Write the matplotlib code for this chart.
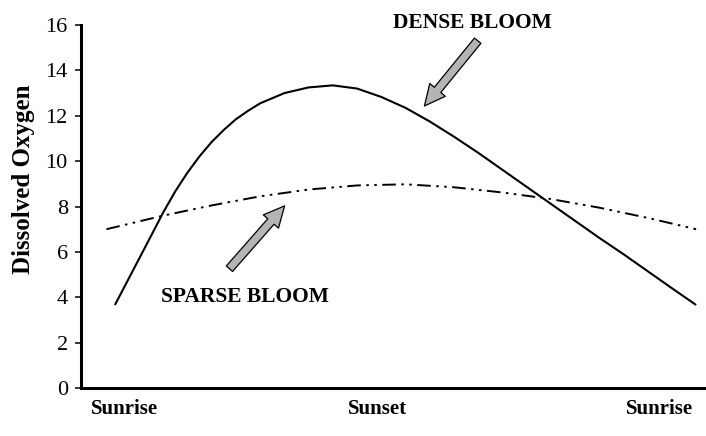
import matplotlib
matplotlib.use("Agg")
import matplotlib.pyplot as plt

# Data (hours after sunrise, dissolved oxygen)
dense_x = [0, 0.5, 1, 1.5, 2, 2.5, 3, 3.5, 4, 4.5, 5, 5.5, 6, 7, 8, 9, 10, 11,
           12, 13, 14, 15, 16, 17, 18, 19, 20, 21, 22, 23, 24]
dense_y = [3.66, 4.68, 5.7, 6.72, 7.75, 8.68, 9.5, 10.22, 10.85, 11.38, 11.85, 12.22,
           12.55, 13.0, 13.25, 13.34, 13.2, 12.83, 12.35, 11.75, 11.08, 10.37, 9.62,
           8.87, 8.12, 7.37, 6.62, 5.9, 5.15, 4.4, 3.66]
sparse_x = [-0.35, 2, 4, 6, 8, 10, 12, 14, 16, 18, 20, 22, 24]
sparse_y = [7.0, 7.6, 8.05, 8.45, 8.75, 8.93, 8.98, 8.85, 8.62, 8.33, 7.95, 7.5, 7.0]
xtick_pos = [0.4, 10.85, 22.5]
xtick_labels = ["Sunrise", "Sunset", "Sunrise"]
yticks = [0, 2, 4, 6, 8, 10, 12, 14, 16]

serif = ["Liberation Serif", "DejaVu Serif"]

fig = plt.figure(figsize=(7.06, 4.36), dpi=100)
ax = fig.add_axes([0.1147, 0.110, 0.884, 0.8326])

ax.plot(dense_x, dense_y, color="black", lw=1.5, solid_capstyle="butt",
        solid_joinstyle="round")
ax.plot(sparse_x, sparse_y, color="black", lw=1.4,
        linestyle=(0, (7, 2.8, 1.3, 2.8, 1.3, 2.8)))

ax.set_xlim(-1.4, 24.37)
ax.set_ylim(0, 16)

for s in ["top", "right"]:
    ax.spines[s].set_visible(False)
for s in ["left", "bottom"]:
    ax.spines[s].set_linewidth(2.2)

ax.set_yticks(yticks)
ax.set_yticklabels([str(v) for v in yticks], fontfamily=serif, fontsize=16)
ax.tick_params(axis="y", direction="out", length=4.5, width=1.1, pad=5)
ax.set_xticks(xtick_pos)
ax.set_xticklabels(xtick_labels, fontfamily=serif, fontsize=15, fontweight="bold")
ax.tick_params(axis="x", length=0, pad=8)

ax.set_ylabel("Dissolved Oxygen", fontfamily=serif, fontsize=18, fontweight="bold")
ax.yaxis.set_label_coords(-0.073, 0.575)

arrow_props = dict(arrowstyle="simple,head_width=1.45,head_length=1.5,tail_width=0.6",
                   fc="#b4b4b4", ec="black", lw=0.9, shrinkA=0, shrinkB=0,
                   mutation_scale=10)
ax.annotate("", xy=(12.78, 12.43), xytext=(14.98, 15.31), arrowprops=arrow_props)
ax.annotate("", xy=(7.01, 8.03), xytext=(4.73, 5.26), arrowprops=arrow_props)

ax.text(14.76, 16.1, "DENSE BLOOM", fontfamily=serif, fontsize=15.5, fontweight="bold",
        ha="center", va="center", clip_on=False)
ax.text(5.36, 4.0, "SPARSE BLOOM", fontfamily=serif, fontsize=15.5, fontweight="bold",
        ha="center", va="center")

fig.savefig("out.png", dpi=100)
